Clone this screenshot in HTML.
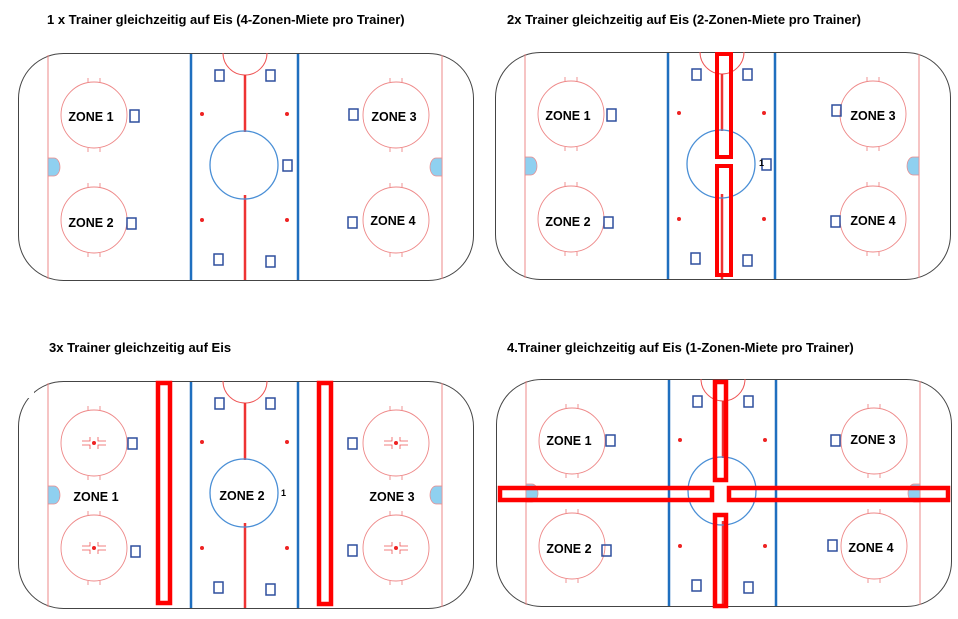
<!DOCTYPE html>
<html><head><meta charset="utf-8"><style>
html,body{margin:0;padding:0;background:#fff;}
svg{display:block;}
text{font-family:"Liberation Sans",sans-serif;font-weight:bold;}
</style></head><body>
<svg width="958" height="619" viewBox="0 0 958 619" xmlns="http://www.w3.org/2000/svg">
<defs>
<g id="rinkbase">
  <rect x="18.5" y="53.5" width="455" height="227" rx="45" fill="#fff" stroke="#444" stroke-width="1"/>
  <line x1="48" y1="55" x2="48" y2="279" stroke="#e88" stroke-width="1"/>
  <line x1="442" y1="55" x2="442" y2="279" stroke="#e88" stroke-width="1"/>
  <path d="M48,158 h6 a6,9 0 0 1 0,18 h-6 z" fill="#8fd0f0" stroke="#e88" stroke-width="0.7"/>
  <path d="M442,158 h-6 a6,9 0 0 0 0,18 h6 z" fill="#8fd0f0" stroke="#e88" stroke-width="0.7"/>
  <path d="M223,53 a22,22 0 0 0 44,0" fill="none" stroke="#e55" stroke-width="1"/>
  <line x1="245" y1="75" x2="245" y2="132" stroke="#e33" stroke-width="2.5"/>
  <line x1="245" y1="195" x2="245" y2="280" stroke="#e33" stroke-width="2.5"/>
  <circle cx="244" cy="165" r="34" fill="none" stroke="#4a8fd6" stroke-width="1.3"/>
  <line x1="191" y1="54" x2="191" y2="280" stroke="#1f6fbf" stroke-width="2.5"/>
  <line x1="298" y1="54" x2="298" y2="280" stroke="#1f6fbf" stroke-width="2.5"/>
  <g fill="#e22"><circle cx="202" cy="114" r="2"/><circle cx="287" cy="114" r="2"/><circle cx="202" cy="220" r="2"/><circle cx="287" cy="220" r="2"/></g>
  <g fill="none" stroke="#e88" stroke-width="0.9">
    <circle cx="94" cy="115" r="33"/><circle cx="94" cy="220" r="33"/>
    <circle cx="396" cy="115" r="33"/><circle cx="396" cy="220" r="33"/>
    <path d="M88,78v4M100,78v4M88,148v4M100,148v4M88,183v4M100,183v4M88,253v4M100,253v4"/>
    <path d="M390,78v4M402,78v4M390,148v4M402,148v4M390,183v4M402,183v4M390,253v4M402,253v4"/>
  </g>
  <g fill="none" stroke="#2e4f9e" stroke-width="1.5">
    <rect x="215" y="70" width="9" height="11"/><rect x="266" y="70" width="9" height="11"/>
    <rect x="214" y="254" width="9" height="11"/><rect x="266" y="256" width="9" height="11"/>
  </g>
</g>
<g id="cross" stroke="#e55" stroke-width="0.8" fill="none">
  <path d="M-12,-2h8v-4M-12,2h8v4M12,-2h-8v-4M12,2h-8v4"/>
</g>
</defs>

<text x="47" y="24" font-size="13">1 x Trainer gleichzeitig auf Eis (4-Zonen-Miete pro Trainer)</text>
<text x="507" y="24" font-size="13">2x Trainer gleichzeitig auf Eis (2-Zonen-Miete pro Trainer)</text>
<text x="49" y="352" font-size="13">3x Trainer gleichzeitig auf Eis</text>
<text x="507" y="352" font-size="13">4.Trainer gleichzeitig auf Eis (1-Zonen-Miete pro Trainer)</text>

<!-- TL -->
<g>
  <use href="#rinkbase"/>
  <g fill="none" stroke="#2e4f9e" stroke-width="1.5">
    <rect x="130" y="110" width="9" height="12"/><rect x="283" y="160" width="9" height="11"/>
    <rect x="127" y="218" width="9" height="11"/><rect x="349" y="109" width="9" height="11"/><rect x="348" y="217" width="9" height="11"/>
  </g>
  <g font-size="12.5" text-anchor="middle">
    <text x="91" y="121">ZONE 1</text><text x="91" y="227">ZONE 2</text>
    <text x="394" y="121">ZONE 3</text><text x="393" y="225">ZONE 4</text>
  </g>
</g>

<!-- TR -->
<g transform="translate(477,-1)">
  <use href="#rinkbase"/>
  <g fill="none" stroke="#2e4f9e" stroke-width="1.5">
    <rect x="130" y="110" width="9" height="12"/><rect x="285" y="160" width="9" height="11"/>
    <rect x="127" y="218" width="9" height="11"/><rect x="355" y="106" width="9" height="11"/><rect x="354" y="217" width="9" height="11"/>
  </g>
  <text x="282" y="167" font-size="9">1</text>
  <g font-size="12.5" text-anchor="middle">
    <text x="91" y="121">ZONE 1</text><text x="91" y="227">ZONE 2</text>
    <text x="396" y="121">ZONE 3</text><text x="396" y="226">ZONE 4</text>
  </g>
  <g fill="none" stroke="#f00" stroke-width="4">
    <rect x="240" y="55" width="14" height="103"/><rect x="240" y="167" width="14" height="109"/>
  </g>
</g>

<!-- BL -->
<g transform="translate(0,328)">
  <use href="#rinkbase"/>
  <rect x="14" y="40" width="20" height="30" fill="#fff"/>
  <use href="#cross" x="94" y="115"/><use href="#cross" x="94" y="220"/>
  <use href="#cross" x="396" y="115"/><use href="#cross" x="396" y="220"/>
  <g fill="#e22"><circle cx="94" cy="115" r="2"/><circle cx="94" cy="220" r="2"/><circle cx="396" cy="115" r="2"/><circle cx="396" cy="220" r="2"/></g>
  <g fill="none" stroke="#2e4f9e" stroke-width="1.5">
    <rect x="128" y="110" width="9" height="11"/><rect x="131" y="218" width="9" height="11"/>
    <rect x="348" y="110" width="9" height="11"/><rect x="348" y="217" width="9" height="11"/>
  </g>
  <text x="281" y="168" font-size="9">1</text>
  <g font-size="12.5" text-anchor="middle">
    <text x="96" y="173">ZONE 1</text><text x="242" y="172">ZONE 2</text><text x="392" y="173">ZONE 3</text>
  </g>
  <g fill="none" stroke="#f00" stroke-width="4.5">
    <rect x="158" y="55" width="12" height="220"/><rect x="319" y="55" width="12" height="221"/>
  </g>
</g>

<!-- BR -->
<g transform="translate(478,326)">
  <use href="#rinkbase"/>
  <g fill="none" stroke="#2e4f9e" stroke-width="1.5">
    <rect x="128" y="109" width="9" height="11"/><rect x="124" y="219" width="9" height="11"/>
    <rect x="353" y="109" width="9" height="11"/><rect x="350" y="214" width="9" height="11"/>
  </g>
  <g font-size="12.5" text-anchor="middle">
    <text x="91" y="119">ZONE 1</text><text x="91" y="227">ZONE 2</text>
    <text x="395" y="118">ZONE 3</text><text x="393" y="226">ZONE 4</text>
  </g>
  <g fill="none" stroke="#f00" stroke-width="4.5">
    <rect x="237" y="56" width="11" height="98"/>
    <rect x="237" y="189" width="11" height="91"/>
    <rect x="22" y="162" width="212" height="12"/>
    <rect x="251" y="162" width="219" height="12"/>
  </g>
</g>
</svg>
</body></html>
